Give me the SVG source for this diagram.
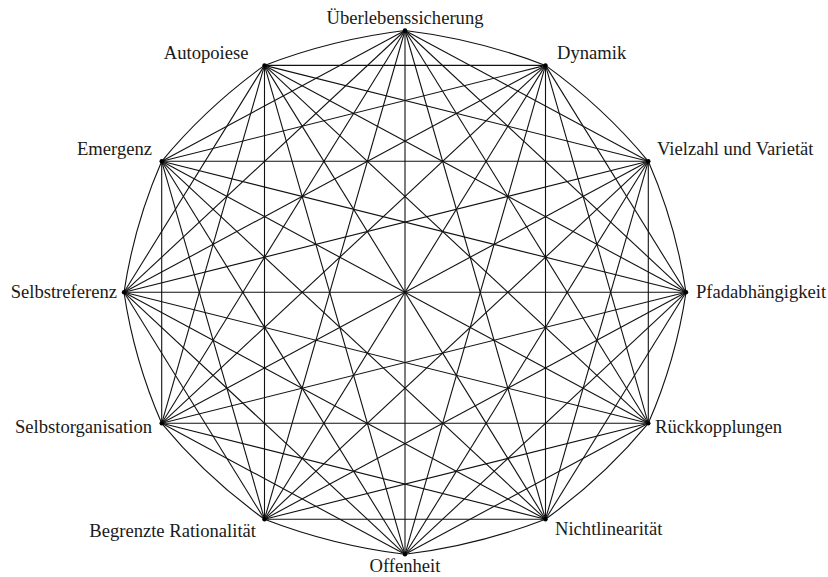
<svg xmlns="http://www.w3.org/2000/svg" width="828" height="577" viewBox="0 0 828 577">
  <style>
    .edge { stroke: #111; stroke-width: 1.1; fill: none; }
    .dot { fill: #000; }
    .lbl { font-family: "Liberation Serif", "Times New Roman", serif; font-size: 18.6px; fill: #1a1a1a; }
    .mid { text-anchor: middle; }
    .end { text-anchor: end; }
  </style>
  <rect width="828" height="577" fill="#fff"/>

  <!-- twelve principles on an ellipse; every pair is connected -->
  <g id="connectors">
    <!-- outer ring: neighbouring nodes, slightly bowed -->
    <path class="edge" d="M405,30.5 Q477.7,39.3 545.5,65.4"/>
    <path class="edge" d="M545.5,65.4 Q603.5,107.2 648.3,161.3"/>
    <path class="edge" d="M648.3,161.3 Q675.9,224.6 686,292.3"/>
    <path class="edge" d="M686,292.3 Q675.9,360 648.3,423.3"/>
    <path class="edge" d="M648.3,423.3 Q603.5,477.4 545.5,519.2"/>
    <path class="edge" d="M545.5,519.2 Q477.7,545.4 405,554.3"/>
    <path class="edge" d="M405,554.3 Q332.3,545.4 264.5,519.2"/>
    <path class="edge" d="M264.5,519.2 Q206.5,477.4 161.7,423.3"/>
    <path class="edge" d="M161.7,423.3 Q134.1,360 124,292.3"/>
    <path class="edge" d="M124,292.3 Q134.1,224.6 161.7,161.3"/>
    <path class="edge" d="M161.7,161.3 Q206.5,107.2 264.5,65.4"/>
    <path class="edge" d="M264.5,65.4 Q332.3,39.3 405,30.5"/>

    <!-- chords -->
    <line class="edge" x1="405" y1="30.5" x2="648.3" y2="161.3"/>
    <line class="edge" x1="405" y1="30.5" x2="686" y2="292.3"/>
    <line class="edge" x1="405" y1="30.5" x2="648.3" y2="423.3"/>
    <line class="edge" x1="405" y1="30.5" x2="545.5" y2="519.2"/>
    <line class="edge" x1="405" y1="30.5" x2="405" y2="554.3"/>
    <line class="edge" x1="405" y1="30.5" x2="264.5" y2="519.2"/>
    <line class="edge" x1="405" y1="30.5" x2="161.7" y2="423.3"/>
    <line class="edge" x1="405" y1="30.5" x2="124" y2="292.3"/>
    <line class="edge" x1="405" y1="30.5" x2="161.7" y2="161.3"/>

    <line class="edge" x1="545.5" y1="65.4" x2="686" y2="292.3"/>
    <line class="edge" x1="545.5" y1="65.4" x2="648.3" y2="423.3"/>
    <line class="edge" x1="545.5" y1="65.4" x2="545.5" y2="519.2"/>
    <line class="edge" x1="545.5" y1="65.4" x2="405" y2="554.3"/>
    <line class="edge" x1="545.5" y1="65.4" x2="264.5" y2="519.2"/>
    <line class="edge" x1="545.5" y1="65.4" x2="161.7" y2="423.3"/>
    <line class="edge" x1="545.5" y1="65.4" x2="124" y2="292.3"/>
    <line class="edge" x1="545.5" y1="65.4" x2="161.7" y2="161.3"/>
    <line class="edge" x1="545.5" y1="65.4" x2="264.5" y2="65.4"/>

    <line class="edge" x1="648.3" y1="161.3" x2="648.3" y2="423.3"/>
    <line class="edge" x1="648.3" y1="161.3" x2="545.5" y2="519.2"/>
    <line class="edge" x1="648.3" y1="161.3" x2="405" y2="554.3"/>
    <line class="edge" x1="648.3" y1="161.3" x2="264.5" y2="519.2"/>
    <line class="edge" x1="648.3" y1="161.3" x2="161.7" y2="423.3"/>
    <line class="edge" x1="648.3" y1="161.3" x2="124" y2="292.3"/>
    <line class="edge" x1="648.3" y1="161.3" x2="161.7" y2="161.3"/>
    <line class="edge" x1="648.3" y1="161.3" x2="264.5" y2="65.4"/>

    <line class="edge" x1="686" y1="292.3" x2="545.5" y2="519.2"/>
    <line class="edge" x1="686" y1="292.3" x2="405" y2="554.3"/>
    <line class="edge" x1="686" y1="292.3" x2="264.5" y2="519.2"/>
    <line class="edge" x1="686" y1="292.3" x2="161.7" y2="423.3"/>
    <line class="edge" x1="686" y1="292.3" x2="124" y2="292.3"/>
    <line class="edge" x1="686" y1="292.3" x2="161.7" y2="161.3"/>
    <line class="edge" x1="686" y1="292.3" x2="264.5" y2="65.4"/>

    <line class="edge" x1="648.3" y1="423.3" x2="405" y2="554.3"/>
    <line class="edge" x1="648.3" y1="423.3" x2="264.5" y2="519.2"/>
    <line class="edge" x1="648.3" y1="423.3" x2="161.7" y2="423.3"/>
    <line class="edge" x1="648.3" y1="423.3" x2="124" y2="292.3"/>
    <line class="edge" x1="648.3" y1="423.3" x2="161.7" y2="161.3"/>
    <line class="edge" x1="648.3" y1="423.3" x2="264.5" y2="65.4"/>

    <line class="edge" x1="545.5" y1="519.2" x2="264.5" y2="519.2"/>
    <line class="edge" x1="545.5" y1="519.2" x2="161.7" y2="423.3"/>
    <line class="edge" x1="545.5" y1="519.2" x2="124" y2="292.3"/>
    <line class="edge" x1="545.5" y1="519.2" x2="161.7" y2="161.3"/>
    <line class="edge" x1="545.5" y1="519.2" x2="264.5" y2="65.4"/>

    <line class="edge" x1="405" y1="554.3" x2="161.7" y2="423.3"/>
    <line class="edge" x1="405" y1="554.3" x2="124" y2="292.3"/>
    <line class="edge" x1="405" y1="554.3" x2="161.7" y2="161.3"/>
    <line class="edge" x1="405" y1="554.3" x2="264.5" y2="65.4"/>

    <line class="edge" x1="264.5" y1="519.2" x2="124" y2="292.3"/>
    <line class="edge" x1="264.5" y1="519.2" x2="161.7" y2="161.3"/>
    <line class="edge" x1="264.5" y1="519.2" x2="264.5" y2="65.4"/>

    <line class="edge" x1="161.7" y1="423.3" x2="161.7" y2="161.3"/>
    <line class="edge" x1="161.7" y1="423.3" x2="264.5" y2="65.4"/>

    <line class="edge" x1="124" y1="292.3" x2="264.5" y2="65.4"/>
  </g>

  <g id="ueberlebenssicherung">
    <circle class="dot" cx="405" cy="30.5" r="2.2"/>
    <text class="lbl mid" x="405" y="23.5">Überlebenssicherung</text>
  </g>
  <g id="dynamik">
    <circle class="dot" cx="545.5" cy="65.4" r="2.2"/>
    <text class="lbl" x="557" y="59.3">Dynamik</text>
  </g>
  <g id="vielzahl">
    <circle class="dot" cx="648.3" cy="161.3" r="2.2"/>
    <text class="lbl" x="657" y="155">Vielzahl und Varietät</text>
  </g>
  <g id="pfadabhaengigkeit">
    <circle class="dot" cx="686" cy="292.3" r="2.2"/>
    <text class="lbl" x="696" y="298.3">Pfadabhängigkeit</text>
  </g>
  <g id="rueckkopplungen">
    <circle class="dot" cx="648.3" cy="423.3" r="2.2"/>
    <text class="lbl" x="655" y="432.7">Rückkopplungen</text>
  </g>
  <g id="nichtlinearitaet">
    <circle class="dot" cx="545.5" cy="519.2" r="2.2"/>
    <text class="lbl" x="555" y="535">Nichtlinearität</text>
  </g>
  <g id="offenheit">
    <circle class="dot" cx="405" cy="554.3" r="2.2"/>
    <text class="lbl mid" x="405" y="572">Offenheit</text>
  </g>
  <g id="begrenzte-rationalitaet">
    <circle class="dot" cx="264.5" cy="519.2" r="2.2"/>
    <text class="lbl end" x="256" y="536.7">Begrenzte Rationalität</text>
  </g>
  <g id="selbstorganisation">
    <circle class="dot" cx="161.7" cy="423.3" r="2.2"/>
    <text class="lbl end" x="152" y="432.7">Selbstorganisation</text>
  </g>
  <g id="selbstreferenz">
    <circle class="dot" cx="124" cy="292.3" r="2.2"/>
    <text class="lbl end" x="117" y="297.7">Selbstreferenz</text>
  </g>
  <g id="emergenz">
    <circle class="dot" cx="161.7" cy="161.3" r="2.2"/>
    <text class="lbl end" x="152" y="155">Emergenz</text>
  </g>
  <g id="autopoiese">
    <circle class="dot" cx="264.5" cy="65.4" r="2.2"/>
    <text class="lbl end" x="248.5" y="59.3">Autopoiese</text>
  </g>
</svg>
